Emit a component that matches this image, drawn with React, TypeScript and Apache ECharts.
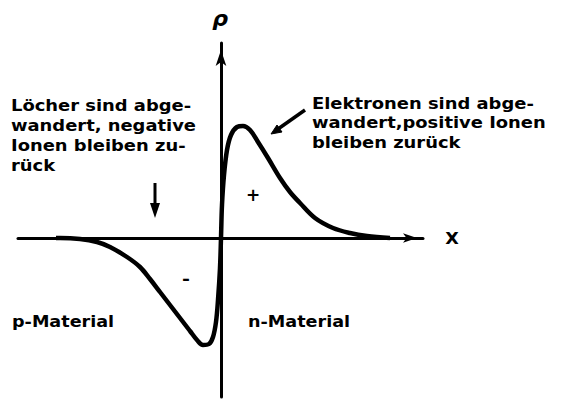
import React, { useEffect, useRef } from "react";
import * as echarts from "echarts";

// Charge density rho(x) across a p-n junction (arbitrary units)
const xValues = [-3.3, -3.22, -2.82, -2.48, -2.22, -1.88, -1.62, -1.42, -1.22, -1.02, -0.82, -0.62, -0.48, -0.36, -0.24, -0.16, -0.1, -0.06, -0.02, 0, 0.02, 0.06, 0.12, 0.2, 0.32, 0.44, 0.58, 0.74, 0.94, 1.18, 1.38, 1.58, 1.88, 2.24, 2.58, 2.92, 3.38];
const rhoValues = [0, 0, -0.02, -0.08, -0.18, -0.38, -0.58, -0.82, -1.08, -1.34, -1.6, -1.86, -2.04, -2.14, -2.12, -1.98, -1.68, -1.24, -0.6, 0, 0.66, 1.26, 1.76, 2.06, 2.22, 2.24, 2.16, 1.92, 1.6, 1.2, 0.92, 0.7, 0.4, 0.2, 0.1, 0.04, 0];

const leftNote = ["Löcher sind abge-", "wandert, negative", "Ionen bleiben zu-", "rück"];
const rightNote = ["Elektronen sind abge-", "wandert,positive Ionen", "bleiben zurück"];
const pLabel = "p-Material";
const nLabel = "n-Material";
const xLabel = "X";
const yLabel = "ρ";

const FONT = "'DejaVu Sans', sans-serif";

export default function App() {
  const ref = useRef<HTMLDivElement>(null);
  useEffect(() => {
    document.body.style.margin = "0";
    const chart = echarts.init(ref.current!, null, { renderer: "svg" });
    const data = xValues.map((x, i) => [x, rhoValues[i]]);
    const txt = (text: string, x: number, y: number, size: number, sx: number, extra: any = {}) => ({
      type: "text",
      x,
      y,
      scaleX: sx,
      style: {
        text,
        fill: "#000",
        font: `bold ${size}px ${FONT}`,
        textVerticalAlign: "middle",
        ...extra,
      },
    });
    const graphic: any[] = [];
    leftNote.forEach((t, i) => graphic.push(txt(t, 11, 105 + i * 20, 16, 1.12)));
    rightNote.forEach((t, i) => graphic.push(txt(t, 312, 103 + i * 19.5, 16, 1.12)));
    graphic.push(txt(pLabel, 12, 321, 16, 1.1));
    graphic.push(txt(nLabel, 248, 321, 16, 1.1));
    graphic.push(txt(xLabel, 452, 238, 16, 1.1, { textAlign: "center" }));
    graphic.push({
      type: "text",
      x: 220,
      y: 18,
      style: { text: yLabel, fill: "#000", font: `bold italic 22px ${FONT}`, textAlign: "center", textVerticalAlign: "middle" },
    });
    graphic.push(txt("+", 253, 195, 17, 1, { textAlign: "center" }));
    graphic.push(txt("-", 186, 279, 16, 1.2, { textAlign: "center" }));
    // down arrow
    graphic.push({ type: "line", shape: { x1: 155, y1: 183, x2: 155, y2: 206 }, style: { stroke: "#000", lineWidth: 3 } });
    graphic.push({ type: "polygon", shape: { points: [[150, 203], [160, 203], [155, 218]] }, style: { fill: "#000" } });
    // pointer arrow to positive lobe
    graphic.push({ type: "line", shape: { x1: 305, y1: 110, x2: 278, y2: 129 }, style: { stroke: "#000", lineWidth: 3.5 } });
    graphic.push({ type: "polygon", shape: { points: [[282, 132], [277, 125], [271, 134]] }, style: { fill: "#000", stroke: "#000", lineWidth: 1 } });

    chart.setOption({
      animation: false,
      backgroundColor: "#fff",
      grid: { left: 18, right: 143, top: 43, bottom: 8, containLabel: false },
      xAxis: {
        type: "value",
        min: -4.06,
        max: 4.04,
        axisLine: { onZero: true, lineStyle: { color: "#000", width: 3 }, symbol: ["none", "arrow"], symbolSize: [7, 14], symbolOffset: [0, -6] },
        axisTick: { show: false },
        axisLabel: { show: false },
        splitLine: { show: false },
      },
      yAxis: {
        type: "value",
        min: -3.18,
        max: 3.9,
        axisLine: { onZero: true, lineStyle: { color: "#000", width: 3 }, symbol: ["none", "arrow"], symbolSize: [8, 16], symbolOffset: [0, -7] },
        axisTick: { show: false },
        axisLabel: { show: false },
        splitLine: { show: false },
      },
      series: [
        {
          type: "line",
          data,
          smooth: 0.35,
          showSymbol: false,
          lineStyle: { color: "#000", width: 4.5 },
          z: 3,
        },
      ],
      graphic,
    });
    return () => chart.dispose();
  }, []);
  return <div ref={ref} style={{ width: 566, height: 405 }} />;
}
